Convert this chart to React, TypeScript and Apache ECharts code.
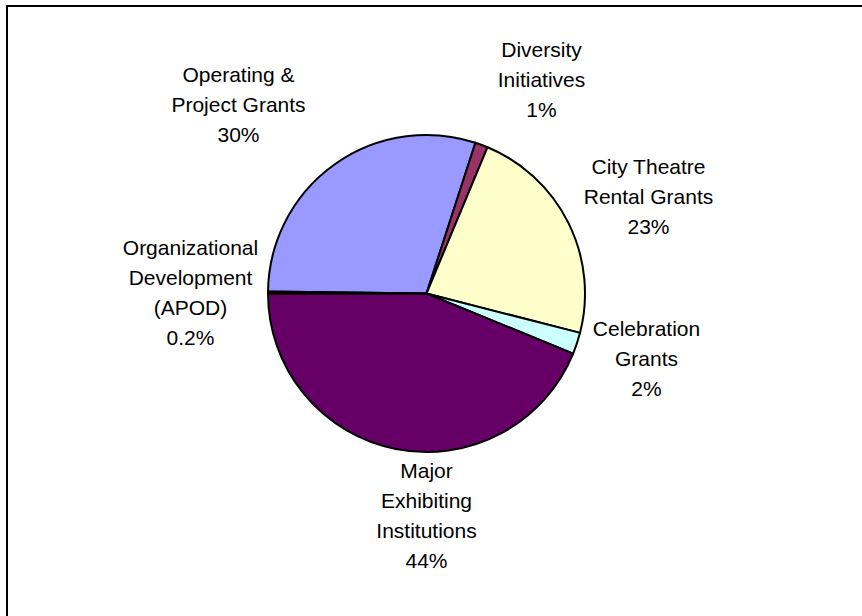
import React, { useEffect, useRef } from "react";
import * as echarts from "echarts";

// Data (percent of total)
const categories = [
  "Operating &\nProject Grants",
  "Diversity\nInitiatives",
  "City Theatre\nRental Grants",
  "Celebration\nGrants",
  "Major\nExhibiting\nInstitutions",
  "Organizational\nDevelopment\n(APOD)",
];
const values = [29.8, 1.3, 22.7, 2.2, 43.8, 0.2];

// Palette (Excel classic pie colours)
const palette = ["#9999FF", "#993366", "#FFFFCC", "#CCFFFF", "#660066", "#FF8080"];

// Layout constants
const CX = 426.5;
const CY = 293.5;
const R = 158.5;
// label centre offsets from the pie centre (px)
const labelOffsets: [number, number][] = [
  [-188, -189],
  [115, -214],
  [222, -97],
  [220, 65],
  [0, 222],
  [-236, -1],
];

function fmtPct(p: number): string {
  return p < 1 ? p.toFixed(1) + "%" : Math.round(p) + "%";
}

export default function App() {
  const ref = useRef<HTMLDivElement>(null);
  useEffect(() => {
    if (!ref.current) return;
    const chart = echarts.init(ref.current, undefined, { renderer: "svg" });
    chart.setOption({
      animation: false,
      backgroundColor: "#ffffff",
      graphic: [
        {
          type: "rect",
          shape: { x: 7, y: 6, width: 900, height: 700 },
          style: { fill: "none", stroke: "#000000", lineWidth: 2 },
          silent: true,
        },
      ],
      series: [
        {
          type: "pie",
          center: [CX, CY],
          radius: R,
          startAngle: 179.3,
          clockwise: true,
          avoidLabelOverlap: false,
          minAngle: 0,
          data: categories.map((c, i) => ({
            name: c,
            value: values[i],
            itemStyle: { color: palette[i] },
          })),
          itemStyle: { borderColor: "#000000", borderWidth: 2 },
          label: {
            show: true,
            position: "outside",
            color: "#000000",
            fontFamily: "Liberation Sans, Arial, sans-serif",
            fontSize: 21,
            lineHeight: 30,
            align: "center",
            formatter: (p: any) => p.name + "\n" + fmtPct(p.percent),
          },
          labelLine: { show: false },
          labelLayout: (params: any) => {
            const o = labelOffsets[params.dataIndex];
            return {
              x: CX + o[0],
              y: CY + o[1],
              align: "center",
              verticalAlign: "middle",
              hideOverlap: false,
            };
          },
          emphasis: { disabled: true },
        },
      ],
    });
    return () => chart.dispose();
  }, []);
  return (
    <div
      ref={ref}
      style={{ position: "absolute", left: 0, top: 0, width: 862, height: 616, background: "#fff" }}
    />
  );
}
